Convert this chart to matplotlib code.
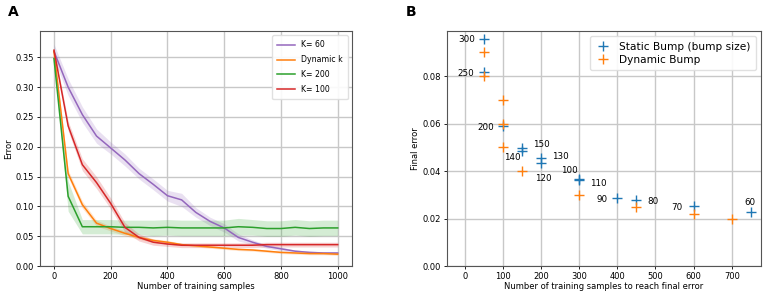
import numpy as np
import matplotlib
matplotlib.use("Agg")
import matplotlib.pyplot as plt

# ── Panel A data ─────────────────────────────────────────────
samples = np.arange(0, 1001, 50)

k60 = [0.360, 0.300, 0.254, 0.218, 0.198, 0.178, 0.155, 0.137, 0.118, 0.111, 0.090,
       0.075, 0.064, 0.048, 0.040, 0.033, 0.029, 0.025, 0.023, 0.022, 0.022]
k60_sd = [0.012, 0.014, 0.013, 0.012, 0.010, 0.010, 0.009, 0.009, 0.009, 0.011, 0.008,
          0.007, 0.007, 0.006, 0.004, 0.003, 0.003, 0.002, 0.002, 0.002, 0.002]

dyn = [0.360, 0.155, 0.103, 0.072, 0.063, 0.055, 0.048, 0.043, 0.040, 0.036, 0.034,
       0.032, 0.030, 0.028, 0.027, 0.025, 0.023, 0.022, 0.021, 0.021, 0.020]
dyn_sd = [0.003, 0.006, 0.006, 0.005, 0.004, 0.004, 0.003, 0.003, 0.003, 0.002, 0.002,
          0.002, 0.002, 0.002, 0.002, 0.002, 0.002, 0.002, 0.002, 0.002, 0.002]

k200 = [0.348, 0.117, 0.066, 0.066, 0.066, 0.065, 0.065, 0.064, 0.065, 0.064, 0.064,
        0.064, 0.064, 0.066, 0.065, 0.063, 0.063, 0.065, 0.063, 0.064, 0.064]
k200_sd = [0.003, 0.025, 0.012, 0.012, 0.012, 0.012, 0.012, 0.013, 0.013, 0.013, 0.013,
           0.013, 0.013, 0.014, 0.013, 0.013, 0.013, 0.013, 0.013, 0.013, 0.013]

k100 = [0.362, 0.235, 0.170, 0.140, 0.105, 0.065, 0.048, 0.040, 0.037, 0.035, 0.035,
        0.035, 0.035, 0.035, 0.035, 0.036, 0.036, 0.036, 0.036, 0.036, 0.036]
k100_sd = [0.004, 0.008, 0.010, 0.010, 0.009, 0.008, 0.006, 0.005, 0.004, 0.004, 0.004,
           0.004, 0.004, 0.004, 0.004, 0.004, 0.004, 0.004, 0.004, 0.004, 0.004]

# ── Panel B data ─────────────────────────────────────────────
static_x = [50, 50, 100, 150, 150, 200, 200, 300, 300, 400, 450, 600, 750]
static_y = [0.0955, 0.0818, 0.0589, 0.0499, 0.0485, 0.0457, 0.0434,
            0.0368, 0.0361, 0.0287, 0.0277, 0.0252, 0.0226]
static_lbl = ["300", "250", "200", "150", "140", "130", "120",
              "100", "110", "90", "80", "70", "60"]
# label offsets in points from each marker
lbl_off = [(-12, 0), (-13, -1), (-12, -1), (14, 2), (-7, -5), (14, 1), (2, -11),
           (-7, 6), (14, -2), (-11, -1), (12, -1), (-12, -1), (-1, 7)]

dyn_x = [50, 50, 100, 100, 100, 150, 300, 450, 600, 700]
dyn_y = [0.090, 0.080, 0.070, 0.060, 0.050, 0.040, 0.030, 0.025, 0.022, 0.020]

BLUE, ORANGE, GREEN, RED, PURPLE = "#1f77b4", "#ff7f0e", "#2ca02c", "#d62728", "#9467bd"

fig = plt.figure(figsize=(7.65, 2.96), dpi=100)
axA = fig.add_axes([0.052, 0.101, 0.408, 0.794])
axB = fig.add_axes([0.584, 0.101, 0.411, 0.794])

for ax in (axA, axB):
    ax.grid(True, color="#c8c8c8", linewidth=1.0)
    ax.set_axisbelow(True)
    ax.tick_params(labelsize=6, length=2.5, width=0.6, pad=1.5)
    for sp in ax.spines.values():
        sp.set_edgecolor("#555555")
        sp.set_linewidth(0.8)

# ── Panel A ─────────────────────────────────────────────────
for y, sd, col, lab in [(k60, k60_sd, PURPLE, "K= 60"),
                        (dyn, dyn_sd, ORANGE, "Dynamic k"),
                        (k200, k200_sd, GREEN, "K= 200"),
                        (k100, k100_sd, RED, "K= 100")]:
    y = np.array(y)
    sd = np.array(sd)
    axA.fill_between(samples, y - sd, y + sd, color=col, alpha=0.2, linewidth=0)
    axA.plot(samples, y, color=col, linewidth=1.1, label=lab)

axA.set_xlim(-50, 1050)
axA.set_ylim(0, 0.394)
axA.set_xticks([0, 200, 400, 600, 800, 1000])
axA.set_yticks(np.arange(0, 0.36, 0.05))
axA.set_xlabel("Number of training samples", fontsize=6, labelpad=1)
axA.set_ylabel("Error", fontsize=6, labelpad=2)
axA.legend(loc="upper right", fontsize=5.6, handlelength=2.2, borderpad=0.7,
           labelspacing=0.75, framealpha=0.9, edgecolor="#dddddd", fancybox=True)

# ── Panel B ─────────────────────────────────────────────────
axB.plot(static_x, static_y, ls="none", marker="+", ms=7.5, mew=1.0, color=BLUE,
         label="Static Bump (bump size)")
axB.plot(dyn_x, dyn_y, ls="none", marker="+", ms=7.5, mew=1.0, color=ORANGE,
         label="Dynamic Bump")
for x, y, t, off in zip(static_x, static_y, static_lbl, lbl_off):
    axB.annotate(t, (x, y), xytext=off, textcoords="offset points",
                 ha="center", va="center", fontsize=6.3)

axB.set_xlim(-47, 777)
axB.set_ylim(0, 0.099)
axB.set_xticks(np.arange(0, 701, 100))
axB.set_yticks(np.arange(0, 0.081, 0.02))
axB.set_xlabel("Number of training samples to reach final error", fontsize=6, labelpad=1)
axB.set_ylabel("Final error", fontsize=6, labelpad=2)
axB.legend(loc="upper right", fontsize=7.6, handlelength=1.5, borderpad=0.5,
           labelspacing=0.3, framealpha=0.9, edgecolor="#dddddd")

fig.text(0.010, 0.958, "A", fontsize=10, fontweight="bold", va="center")
fig.text(0.530, 0.958, "B", fontsize=10, fontweight="bold", va="center")

fig.savefig("out.png", dpi=100)
